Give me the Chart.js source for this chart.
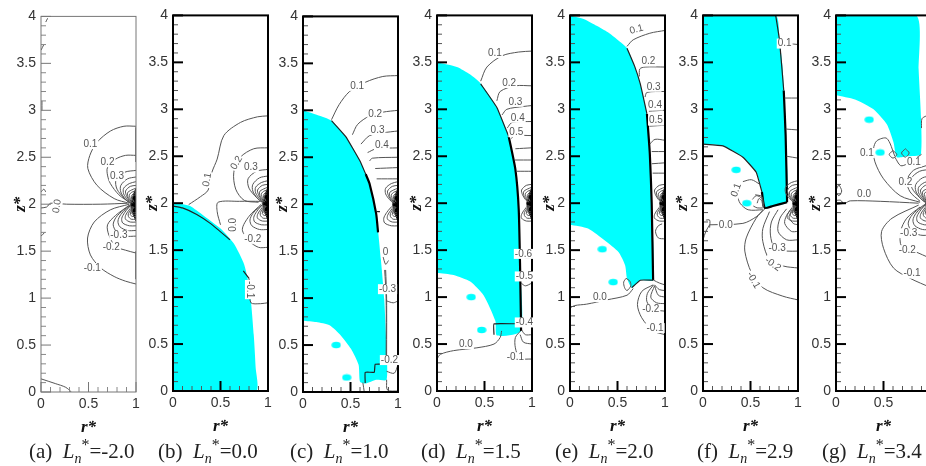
<!DOCTYPE html>
<html>
<head>
<meta charset="utf-8">
<script src="https://cdn.jsdelivr.net/npm/chart.js@4"></script>
<style>
  html, body { margin: 0; background: #fff; overflow: hidden; width: 926px; height: 466px; }
  canvas { position: absolute; filter: blur(0.3px); }
  .cap { position: absolute; top: 439px; font: 21px "Liberation Serif", serif; color: #222; white-space: nowrap; }
  .cap sub { font-size: 14px; line-height: 0; }
  .cap sup { font-size: 16px; line-height: 0; }
</style>
</head>
<body>
<script>
// ------- Axis ticks -------
const rTicks = [0, 0.5, 1];
const zTicks = [0, 0.5, 1, 1.5, 2, 2.5, 3, 3.5, 4];
const rMinor = [0.1, 0.2, 0.3, 0.4, 0.6, 0.7, 0.8, 0.9];
const zMinor = [0.1, 0.2, 0.3, 0.4, 0.6, 0.7, 0.8, 0.9, 1.1, 1.2, 1.3, 1.4, 1.6, 1.7, 1.8, 1.9,
  2.1, 2.2, 2.3, 2.4, 2.6, 2.7, 2.8, 2.9, 3.1, 3.2, 3.3, 3.4, 3.6, 3.7, 3.8, 3.9];

// ------- Captions -------
const captionLetters = ['a', 'b', 'c', 'd', 'e', 'f', 'g'];
const lnValues = ['-2.0', '0.0', '1.0', '1.5', '2.0', '2.9', '3.4'];

// ------- Contours shared round the singular point at (1, 2) -------
const coreUp = [
  [[1,2.36],[.88,2.34],[.79,2.26],[.80,2.16],[.88,2.06],[.94,2.01]],
  [[1,2.29],[.91,2.27],[.84,2.20],[.84,2.13],[.89,2.05],[.94,2.01]],
  [[1,2.24],[.93,2.22],[.87,2.17],[.87,2.11],[.91,2.05],[.95,2.01]],
  [[1,2.20],[.94,2.19],[.89,2.14],[.90,2.09],[.93,2.04],[.96,2.01]],
  [[1,2.17],[.95,2.15],[.91,2.12],[.92,2.07],[.95,2.03],[.97,2.01]],
  [[1,2.14],[.96,2.13],[.93,2.10],[.94,2.06],[.96,2.03]],
  [[1,2.12],[.97,2.11],[.95,2.08],[.96,2.05],[.98,2.02]],
  [[1,2.10],[.97,2.09],[.96,2.06],[.98,2.03]]
];
const coreDown = [
  [[1,1.66],[.89,1.66],[.80,1.70],[.76,1.78],[.79,1.86],[.87,1.94],[.94,1.99]],
  [[1,1.72],[.91,1.72],[.83,1.76],[.81,1.82],[.84,1.89],[.90,1.95],[.95,1.99]],
  [[1,1.77],[.93,1.77],[.86,1.80],[.85,1.85],[.88,1.91],[.92,1.96],[.95,1.99]],
  [[1,1.81],[.94,1.81],[.89,1.84],[.89,1.88],[.92,1.93],[.96,1.98]],
  [[1,1.84],[.95,1.84],[.92,1.87],[.92,1.90],[.95,1.95],[.97,1.98]],
  [[1,1.87],[.96,1.87],[.94,1.89],[.95,1.93],[.97,1.97]],
  [[1,1.89],[.97,1.89],[.95,1.91],[.96,1.94],[.98,1.97]],
  [[1,1.91],[.97,1.91],[.96,1.94],[.98,1.97]]
];
const coreBlack = [[1,2.17],[.98,2.12],[.96,2.05],[.945,2.0],[.96,1.93],[.98,1.87],[1,1.82]];

// ------- Panel (a) -------
const aCyan = [];
const aBlobs = [];
const aEdges = [];
const aStairs = [[[1,1.2],[1,1.5]], [[1,2.45],[1,2.82]]];
const aLines = [
  [[1,2.83],[.873,2.83],[.732,2.78],[.59,2.66],[.514,2.52],[.493,2.38],[.59,2.2],[.77,2.06],[.926,2.01]],
  [[1,2.52],[.89,2.52],[.785,2.48],[.70,2.39],[.70,2.31],[.73,2.22],[.82,2.10],[.93,2.02]],
  [[0,1.96],[.06,1.97],[.1,2.01],[.27,2.0],[.63,2.0],[.91,2.01]],
  [[1,1.15],[.89,1.18],[.77,1.23],[.63,1.32],[.52,1.46],[.49,1.64],[.56,1.81],[.73,1.94],[.93,2.0]],
  [[1,1.48],[.89,1.51],[.785,1.55],[.715,1.67],[.70,1.78],[.785,1.88],[.93,1.99]],
  [[0,.14],[.15,.09],[.26,.05],[.32,0]],
  [[0,2.13],[.03,2.16],[.05,2.13]],
  [[0,3.64],[.03,3.7]], [[.05,3.94],[.07,3.98]], [[0,1.66],[.04,1.7]], [[.01,3.1],[.01,3.0]]
];
const aLabels = [[.52,2.64,'0.1',0],[.70,2.45,'0.2',0],[.80,2.30,'0.3',0],[.17,1.98,'0.0',-80],
  [.82,1.67,'-0.3',0],[.74,1.54,'-0.2',0],[.54,1.32,'-0.1',0]];

// ------- Panel (b) -------
const bCyan = [[0,2.0],[.1,1.99],[.18,1.97],[.32,1.87],[.5,1.73],[.64,1.57],[.75,1.345],[.81,1.06],[.85,.6],[.87,.25],[.875,0],[0,0]];
const bBlobs = [];
const bEdges = [];
const bStairs = [[[0,1.97],[.1,1.95],[.25,1.88],[.4,1.78],[.6,1.61]], [[.74,1.28],[.8,1.2]]];
const bLines = [
  [[1,2.93],[.89,2.92],[.71,2.86],[.535,2.72],[.465,2.47],[.41,2.33],[.37,2.14],[.29,2.07],[.165,1.985]],
  [[1,2.59],[.85,2.58],[.71,2.49],[.64,2.33],[.66,2.15],[.75,2.03],[.9,2.01]],
  [[.5,1.77],[.465,1.91],[.475,2.01],[.7,2.02],[.92,2.02]],
  [[.8,1.2],[.81,1.08],[.82,.94],[.92,.93],[1,.94]],
  [[1,1.53],[.9,1.53],[.80,1.60],[.73,1.72],[.8,1.86],[.93,1.99]]
];
const bLabels = [[.36,2.25,'0.1',-80],[.67,2.43,'0.2',-60],[.82,2.38,'0.3',0],[.63,1.77,'0.0',-90],
  [.84,1.62,'-0.2',0],[.81,1.08,'-0.1',90]];

// ------- Panel (c) -------
const cCyan = [[0,3.0],[.15,2.95],[.30,2.89],[.45,2.72],[.6,2.46],[.7,2.22],[.77,1.9],[.82,1.41],[.855,.99],[.88,.43],[.88,.13],
  [.77,.13],[.66,.09],[.6,.11],[.585,.29],[.505,.46],[.40,.60],[.28,.71],[.14,.745],[0,.76]];
const cBlobs = [[.35,.5],[.46,.155]];
const cEdges = [[[.66,2.32],[.7,2.22],[.77,1.9],[.79,1.7]]];
const cStairs = [[[.655,.095],[.655,.21],[.75,.21],[.76,.295],[.875,.295]], [[.77,1.92],[.81,1.92]],
  [[.30,2.89],[.45,2.72],[.6,2.46],[.66,2.32]]];
const cLines = [
  [[1,3.37],[.84,3.36],[.66,3.3],[.49,3.2],[.38,3.06],[.30,2.9]],
  [[1,3.0],[.84,2.98],[.70,2.94],[.575,2.85],[.52,2.74]],
  [[1,2.78],[.84,2.76],[.70,2.73],[.61,2.64]],
  [[1,2.60],[.77,2.59],[.68,2.55]],
  [[1,2.5],[.73,2.49],[.70,2.46]], [[1,2.39],[.76,2.38]], [[1,2.27],[.775,2.27]],
  [[.645,0],[.63,.1]],
  [[.88,.13],[.89,.02],[1,.01]],
  [[.88,.22],[.96,.2],[1,.29]],
  [[.88,.97],[.95,.95],[1,.97]],
  [[.84,1.45],[.87,1.36],[.9,1.4]],
  [[.86,1.3],[.875,1.0],[.875,.3]], [[.87,1.3],[.88,1.0],[.88,.3]]
];
const cLabels = [[.57,3.26,'0.1',0],[.76,2.96,'0.2',0],[.785,2.79,'0.3',0],[.83,2.63,'0.4',0],
  [.87,1.49,'0',0],[.89,1.095,'-0.3',0],[.91,.34,'-0.2',0]];

// ------- Panel (d) -------
const dCyan = [[0,3.5],[.21,3.45],[.35,3.37],[.455,3.28],[.63,3.02],[.755,2.71],[.825,2.36],[.86,1.94],[.875,1.3],[.885,.64],[.63,.59],
  [.615,.745],[.49,1.02],[.35,1.165],[.175,1.235],[0,1.26]];
const dBlobs = [[.36,1.0],[.47,.65]];
const dEdges = [[[.755,2.71],[.825,2.36],[.86,1.94],[.875,1.3],[.885,.64]]];
const dStairs = [[[.6,.6],[.6,.715],[.875,.715]], [[.46,3.27],[.63,3.02],[.755,2.71]]];
const dLines = [
  [[1,3.62],[.86,3.61],[.685,3.57],[.525,3.45],[.46,3.3]],
  [[1,3.25],[.825,3.25],[.665,3.19],[.63,3.09]],
  [[1,3.04],[.91,3.03],[.735,3.0],[.685,2.94]],
  [[1,2.87],[.79,2.86],[.74,2.8]],
  [[1,2.72],[.825,2.72],[.78,2.69]],
  [[1,2.59],[.825,2.58]], [[1,2.46],[.82,2.46]], [[1,2.34],[.835,2.34]],
  [[0,.34],[.035,.39],[.175,.43],[.42,.46],[.6,.5],[.665,.57],[.68,.64]],
  [[1,.34],[.87,.35],[.825,.46],[.825,.57],[.88,.64]],
  [[1,.5],[.91,.52],[.875,.6]], [[1,.6],[.93,.6],[.89,.65]],
  [[.875,1.5],[.92,1.42],[1,1.42]], [[.885,1.15],[.93,1.12],[1,1.15]]
];
const dLabels = [[.61,3.6,'0.1',0],[.76,3.28,'0.2',0],[.825,3.08,'0.3',0],[.85,2.91,'0.4',0],[.835,2.755,'0.5',0],
  [.91,1.46,'-0.6',0],[.92,1.22,'-0.5',0],[.92,.73,'-0.4',0],[.305,.5,'0.0',0],[.825,.36,'-0.1',0]];

// ------- Panel (e) -------
const eCyan = [[0,4],[.15,3.96],[.28,3.89],[.4,3.82],[.5,3.74],[.6,3.65],[.68,3.46],[.74,3.27],[.81,2.95],[.84,2.53],[.86,2.0],[.875,1.18],[.74,1.18],
  [.65,1.10],[.6,1.2],[.58,1.34],[.51,1.48],[.37,1.60],[.19,1.73],[0,1.77]];
const eBlobs = [[.34,1.51],[.455,1.16]];
const eEdges = [[[.81,2.95],[.84,2.53],[.86,2.0],[.875,1.18]]];
const eStairs = [[[.65,1.10],[.74,1.18],[.875,1.18]], [[.6,3.65],[.68,3.46],[.74,3.27],[.81,2.95]]];
const eLines = [
  [[1,3.84],[.84,3.81],[.665,3.74],[.6,3.67]],
  [[1,3.45],[.79,3.45],[.735,3.43],[.73,3.35]],
  [[1,3.19],[.81,3.18],[.79,3.13]],
  [[1,2.99],[.83,2.98]], [[1,2.83],[.835,2.82]],
  [[1,2.67],[.895,2.68],[.84,2.63]], [[1,2.55],[.86,2.55]], [[1,2.43],[.86,2.42]], [[1,2.32],[.87,2.32]],
  [[0,.885],[.05,.91],[.175,.925],[.385,.97],[.6,1.02],[.665,1.09]],
  [[.59,1.2],[.63,1.17],[.64,1.12],[.6,1.07],[.575,1.1],[.565,1.16],[.59,1.2]],
  [[1,.6],[.875,.64],[.755,.78],[.71,.92],[.755,1.06],[.875,1.13]],
  [[1,.85],[.875,.87],[.81,.95],[.815,1.04],[.88,1.13]],
  [[1,.93],[.91,.94],[.85,1.0],[.89,1.12]],
  [[1,1.0],[.93,1.02],[.89,1.12]], [[1,1.07],[.94,1.08],[.89,1.13]], [[1,1.13],[.94,1.15],[.88,1.18]],
  [[1,1.62],[.93,1.63],[.9,1.7],[.93,1.76],[.97,1.78]]
];
const eLabels = [[.70,3.85,'0.1',-15],[.825,3.51,'0.2',0],[.88,3.24,'0.3',0],[.895,3.04,'0.4',0],[.905,2.88,'0.5',0],
  [.315,1.0,'0.0',0],[.85,.87,'-0.2',0],[.895,.67,'-0.1',0]];

// ------- Panel (f) -------
const fCyan = [[0,4],[.765,4],[.805,3.74],[.84,3.42],[.87,2.72],[.885,2.01],[.735,1.97],[.65,1.95],[.62,2.12],[.56,2.33],[.42,2.49],[.21,2.61],[0,2.63]];
const fBlobs = [[.35,2.355],[.46,2.0]];
const fEdges = [[[.85,3.2],[.87,2.72],[.885,2.01]], [[.885,2.01],[.735,1.97],[.65,1.95],[.62,2.12]]];
const fStairs = [[[.765,4],[.805,3.74],[.85,3.2]], [[.62,2.12],[.56,2.33],[.42,2.49],[.21,2.61],[0,2.63]]];
const fLines = [
  [[.42,2.23],[.51,2.25],[.60,2.2]],
  [[.36,2.09],[.39,2.0],[.475,1.93],[.63,1.93]],
  [[.55,2.09],[.62,2.07],[.64,1.96]], [[.52,2.04],[.56,2.08],[.62,2.05],[.63,1.97]],
  [[.57,2.0],[.59,2.05],[.62,2.02],[.63,1.96]], [[.53,1.97],[.57,1.95],[.63,1.95]],
  [[.07,1.77],[.42,1.785],[.56,1.855],[.63,1.925]],
  [[0,1.61],[.03,1.70],[.07,1.77]],
  [[.03,1.82],[.07,1.82],[.07,1.74]],
  [[1,.97],[.84,1.01],[.63,1.10],[.51,1.26],[.44,1.49],[.455,1.63],[.56,1.84],[.65,1.94]],
  [[1,1.31],[.85,1.33],[.70,1.40],[.63,1.59],[.63,1.73],[.70,1.91]],
  [[1,1.49],[.88,1.49],[.755,1.52],[.71,1.66],[.72,1.80],[.79,1.93]],
  [[1,1.61],[.88,1.61],[.79,1.70],[.81,1.84],[.88,1.94]],
  [[1,1.70],[.93,1.70],[.86,1.785],[.88,1.87],[.93,1.94]],
  [[1,1.77],[.95,1.785],[.905,1.855],[.95,1.93]],
  [[1,3.12],[.86,3.12]], [[1,2.78],[.87,2.79]], [[1,2.48],[.88,2.5]], [[.9,3.7],[1,3.69]]
];
const fLabels = [[.86,3.70,'0.1',0],[.35,2.14,'0.1',-70],[.24,1.76,'0.0',0],[.78,1.52,'-0.3',0],[.735,1.35,'-0.2',35],[.53,1.18,'-0.1',60]];

// ------- Panel (g) -------
const gCyan = [[0,4],[.845,4],[.87,3.42],[.895,2.525],[.745,2.5],[.64,2.49],[.605,2.65],[.535,2.84],[.395,3.0],[.2,3.105],[0,3.15]];
const gBlobs = [[.35,2.89],[.465,2.54]];
const gEdges = [];
const gLines = [
  [[.62,2.5],[.535,2.69],[.43,2.665],[.395,2.58],[.41,2.44],[.5,2.26],[.675,2.08],[.885,2.01]],
  [[.6,2.56],[.64,2.52],[.6,2.48],[.56,2.52],[.6,2.56]],
  [[.73,2.58],[.77,2.535],[.73,2.49],[.69,2.535],[.73,2.58]],
  [[.62,2.49],[.68,2.4],[.75,2.42],[.9,2.52]],
  [[.95,2.4],[.815,2.35],[.745,2.24],[.78,2.12],[.885,2.02]],
  [[0,1.985],[.095,2],[.15,2.025],[.465,2.02],[.87,2.0]],
  [[.03,2.2],[.06,2.13],[.03,2.08],[0,2.13],[.03,2.2]], [[0,2.03],[.05,2.03],[.08,1.99]],
  [[1,1.1],[.78,1.2],[.605,1.31],[.5,1.52],[.48,1.70],[.59,1.84],[.87,1.98]],
  [[1,1.41],[.82,1.49],[.69,1.54],[.68,1.70],[.745,1.84],[.885,1.96]],
  [[.9,2.8],[.905,2.9],[.95,2.93]]
];
const gLabels = [[.325,2.535,'0.1',0],[.82,2.44,'0.1',0],[.73,2.225,'0.2',0],[.295,2.09,'0.0',0],[.765,1.68,'-0.3',0],[.75,1.5,'-0.2',0],[.8,1.25,'-0.1',0]];

// ------- Layout -------
const plotLefts = [41, 173, 303, 437, 570, 703, 836];
const plotTops = [13, 12, 13, 12, 12, 12, 12];
const plotW = 95;
const plotH = 379;
const gutterL = 40;
const gutterT = 10;
const gutterR = 10;
const gutterB = 50;
const captionLefts = [29, 158, 290, 421, 555, 697, 822];

const blobImg = document.createElement('canvas');
blobImg.width = 10;
blobImg.height = 8;
const blobCtx = blobImg.getContext('2d');
blobCtx.fillStyle = '#00ffff';
blobCtx.beginPath();
blobCtx.ellipse(5, 4, 4.6, 3.2, 0, 0, Math.PI * 2);
blobCtx.fill();

const toPts = arr => arr.map(p => ({ x: p[0], y: p[1] }));

function lineSet(arr, color, width, tension) {
  return { data: toPts(arr), showLine: true, borderColor: color, borderWidth: width, tension, pointRadius: 0, fill: false, order: 1 };
}

function tickLine(ctx, x1, y1, x2, y2) {
  ctx.beginPath();
  ctx.moveTo(x1, y1);
  ctx.lineTo(x2, y2);
  ctx.stroke();
}

// draws the inward ticks, frame and contour labels
const panelDeco = {
  id: 'panelDeco',
  afterDraw(chart, args, opts) {
    const { ctx, chartArea: a, scales: { x, y } } = chart;
    ctx.save();
    ctx.setLineDash([]);
    ctx.globalAlpha = 1;
    ctx.strokeStyle = opts.thin ? '#888' : '#555';
    ctx.lineWidth = 1;
    rMinor.forEach(v => { const px = x.getPixelForValue(v); tickLine(ctx, px, a.bottom, px, a.bottom - 5); });
    zMinor.forEach(v => { const py = y.getPixelForValue(v); tickLine(ctx, a.left, py, a.left + 5, py); });
    ctx.strokeStyle = opts.thin ? '#777' : '#000';
    ctx.lineWidth = opts.thin ? 1 : 2;
    rTicks.forEach(v => { const px = x.getPixelForValue(v); tickLine(ctx, px, a.bottom, px, a.bottom - 10); });
    zTicks.forEach(v => { const py = y.getPixelForValue(v); tickLine(ctx, a.left, py, a.left + 10, py); });
    ctx.strokeRect(a.left, a.top, a.right - a.left, a.bottom - a.top);

    ctx.font = '10px "Liberation Sans", Arial, sans-serif';
    ctx.textAlign = 'center';
    ctx.textBaseline = 'middle';
    opts.labels.forEach(l => {
      const w = ctx.measureText(l[2]).width;
      ctx.save();
      ctx.translate(x.getPixelForValue(l[0]), y.getPixelForValue(l[1]));
      ctx.rotate(l[3] * Math.PI / 180);
      ctx.fillStyle = '#fff';
      ctx.fillRect(-w / 2 - 1, -5, w + 2, 10);
      ctx.fillStyle = '#555';
      ctx.fillText(l[2], 0, 0);
      ctx.restore();
    });
    ctx.restore();
  }
};

function makePanel(i, cyan, blobs, edges, stairs, lines, labels, core) {
  const cv = document.createElement('canvas');
  cv.width = gutterL + plotW + gutterR;
  cv.height = gutterT + plotH + gutterB;
  cv.style.left = (plotLefts[i] - gutterL) + 'px';
  cv.style.top = (plotTops[i] - gutterT) + 'px';
  document.body.appendChild(cv);

  const datasets = [];
  lines.concat(core).forEach(l => datasets.push(lineSet(l, '#555', 1, 0.3)));
  stairs.forEach(l => datasets.push(lineSet(l, '#222', 1.2, 0.1)));
  edges.forEach(l => datasets.push(lineSet(l, '#000', 2.2, 0.2)));
  datasets.push({ ...lineSet(coreBlack, '#000', 1, 0.2), fill: 'shape', backgroundColor: '#000' });
  if (blobs.length) {
    datasets.push({ data: toPts(blobs), showLine: false, pointStyle: blobImg, pointRadius: 5, order: 2 });
  }
  if (cyan.length) {
    datasets.push({ data: toPts(cyan), showLine: true, borderWidth: 0, borderColor: '#00ffff', tension: 0.2, pointRadius: 0, fill: 'shape', backgroundColor: '#00ffff', order: 3 });
  }

  const thin = i === 0;
  new Chart(cv, {
    type: 'scatter',
    data: { datasets },
    plugins: [panelDeco],
    options: {
      responsive: false,
      animation: false,
      events: [],
      layout: { padding: { top: gutterT, right: gutterR, left: 0, bottom: 0 } },
      plugins: { legend: { display: false }, tooltip: { enabled: false }, panelDeco: { thin, labels } },
      scales: {
        x: {
          type: 'linear', min: 0, max: 1,
          afterBuildTicks: s => { s.ticks = rTicks.map(v => ({ value: v })); },
          afterFit: s => { s.height = gutterB; },
          grid: { display: false, drawTicks: false },
          border: { display: false },
          ticks: { color: '#333', padding: 4, font: { family: '"Liberation Sans"', size: 14 }, maxRotation: 0, autoSkip: false, callback: v => String(v) },
          title: { display: true, text: 'r*', color: '#111', padding: { top: 0, bottom: 4 }, font: { family: '"Liberation Serif"', size: 17, weight: 'bold', style: 'italic' } }
        },
        y: {
          type: 'linear', min: 0, max: 4,
          afterBuildTicks: s => { s.ticks = zTicks.map(v => ({ value: v })); },
          afterFit: s => { s.width = gutterL; },
          grid: { display: false, drawTicks: false },
          border: { display: false },
          ticks: { color: '#333', padding: 5, font: { family: '"Liberation Sans"', size: 14 }, autoSkip: false, callback: v => String(v) },
          title: { display: true, text: 'z*', color: '#111', padding: { top: 9, bottom: 0 }, font: { family: '"Liberation Serif"', size: 17, weight: 'bold', style: 'italic' } }
        }
      }
    }
  });

  const cap = document.createElement('div');
  cap.className = 'cap';
  cap.style.left = captionLefts[i] + 'px';
  cap.innerHTML = `(${captionLetters[i]})&nbsp; <i>L<sub>n</sub></i><sup>*</sup>=${lnValues[i]}`;
  document.body.appendChild(cap);
}

const wideCore = coreUp.concat(coreDown);
const narrowCore = coreUp.slice(3).concat(coreDown.slice(3));
makePanel(0, aCyan, aBlobs, aEdges, aStairs, aLines, aLabels, wideCore);
makePanel(1, bCyan, bBlobs, bEdges, bStairs, bLines, bLabels, coreUp.concat(coreDown.slice(1)));
makePanel(2, cCyan, cBlobs, cEdges, cStairs, cLines, cLabels, coreUp.slice(2).concat(coreDown.slice(2)));
makePanel(3, dCyan, dBlobs, dEdges, dStairs, dLines, dLabels, narrowCore);
makePanel(4, eCyan, eBlobs, eEdges, eStairs, eLines, eLabels, narrowCore);
makePanel(5, fCyan, fBlobs, fEdges, fStairs, fLines, fLabels, coreUp.slice(2).concat(coreDown.slice(3)));
makePanel(6, gCyan, gBlobs, gEdges, [], gLines, gLabels, wideCore);
</script>
</body>
</html>
